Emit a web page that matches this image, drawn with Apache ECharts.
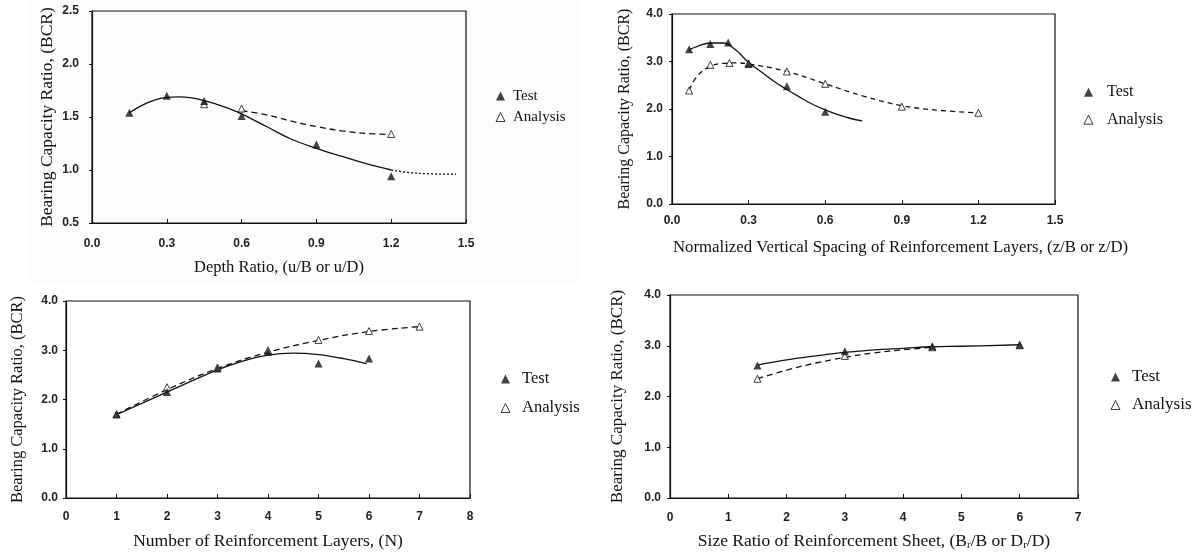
<!DOCTYPE html>
<html><head><meta charset="utf-8">
<script src="https://cdn.jsdelivr.net/npm/echarts@6/dist/echarts.min.js"></script>
<style>html,body{margin:0;padding:0;background:#fff}#c{width:1203px;height:553px}</style>
</head><body><div id="c"></div>
<script>
// ---------- Panel 1: Depth ratio ----------
const p1TestX = [0.15, 0.30, 0.45, 0.60, 0.90, 1.20];
const p1TestY = [1.54, 1.70, 1.65, 1.51, 1.24, 0.94];
const p1AnaX = [0.45, 0.60, 1.20];
const p1AnaY = [1.62, 1.58, 1.34];
const p1FitTest = [[0.15,1.54],[0.2,1.61],[0.25,1.66],[0.3,1.685],[0.35,1.69],[0.4,1.68],[0.45,1.655],[0.5,1.62],[0.55,1.58],[0.6,1.53],[0.7,1.41],[0.8,1.29],[0.9,1.205],[1.0,1.13],[1.1,1.06],[1.2,1.00]];
const p1FitTestExt = [[1.2,1.00],[1.3,0.97],[1.46,0.96]];
const p1FitAna = [[0.6,1.56],[0.7,1.52],[0.8,1.46],[0.9,1.41],[1.0,1.37],[1.1,1.345],[1.2,1.335]];

// ---------- Panel 2: Vertical spacing ----------
const p2TestX = [0.067, 0.15, 0.22, 0.30, 0.45, 0.60];
const p2TestY = [3.26, 3.37, 3.40, 2.95, 2.48, 1.94];
const p2AnaX = [0.067, 0.15, 0.225, 0.30, 0.45, 0.60, 0.90, 1.20];
const p2AnaY = [2.39, 2.93, 2.97, 2.96, 2.79, 2.53, 2.05, 1.92];
const p2FitTest = [[0.067,3.25],[0.1,3.32],[0.15,3.39],[0.2,3.39],[0.25,3.24],[0.3,2.98],[0.35,2.78],[0.4,2.58],[0.45,2.41],[0.5,2.25],[0.55,2.10],[0.6,1.98],[0.65,1.88],[0.7,1.80],[0.745,1.75]];
const p2FitAna = [[0.067,2.40],[0.1,2.70],[0.15,2.90],[0.2,2.96],[0.25,2.97],[0.3,2.95],[0.45,2.79],[0.6,2.53],[0.75,2.27],[0.9,2.07],[1.05,1.97],[1.2,1.92]];

// ---------- Panel 3: Number of layers ----------
const p3TestX = [1, 2, 3, 4, 5, 6];
const p3TestY = [1.70, 2.15, 2.63, 2.97, 2.73, 2.83];
const p3AnaX = [1, 2, 3, 4, 5, 6, 7];
const p3AnaY = [1.70, 2.25, 2.65, 3.00, 3.21, 3.39, 3.48];
const p3FitTest = [[1,1.69],[2,2.15],[3,2.60],[3.5,2.78],[4,2.90],[4.5,2.94],[5,2.91],[5.5,2.83],[5.95,2.73]];
const p3FitAna = [[1,1.70],[2,2.20],[3,2.63],[4,2.96],[5,3.20],[6,3.38],[7,3.48]];

// ---------- Panel 4: Size ratio ----------
const p4TestX = [1.5, 3, 4.5, 6];
const p4TestY = [2.61, 2.89, 2.99, 3.02];
const p4AnaX = [1.5, 3, 4.5, 6];
const p4AnaY = [2.35, 2.80, 2.97, 3.01];
const p4FitTest = [[1.5,2.62],[2,2.72],[2.5,2.80],[3,2.87],[3.5,2.92],[4,2.95],[4.5,2.98],[5,2.99],[6,3.02]];
const p4FitAna = [[1.5,2.35],[2,2.52],[2.5,2.66],[3,2.77],[3.5,2.86],[4,2.92],[4.5,2.97]];

// ---------- Axis texts ----------
const yTitle = 'Bearing Capacity Ratio, (BCR)';
const xTitles = [
  'Depth Ratio, (u/B or u/D)',
  'Normalized Vertical Spacing of Reinforcement Layers, (z/B or z/D)',
  'Number of Reinforcement Layers, (N)',
  'Size Ratio of Reinforcement Sheet, (B{s|r}/B or D{s|r}/D)'
];
const legendNames = ['Test', 'Analysis'];

const zip = (xs, ys) => xs.map((x, i) => [x, ys[i]]);
const serif = '"Liberation Serif", "DejaVu Serif", serif';
const sans = '"Liberation Sans", Arial, sans-serif';

const grids = [
  {left: 92, top: 11, width: 374, height: 212},
  {left: 672, top: 14, width: 383, height: 190},
  {left: 66, top: 301, width: 404, height: 197},
  {left: 670, top: 295, width: 408, height: 203}
].map(g => Object.assign({show: true, borderColor: '#111', borderWidth: 1.2, backgroundColor: 'transparent'}, g));

const xCfg = [
  {min: 0, max: 1.5, interval: 0.3, dec: 1, gap: 36, margin: 15, pad: 0, fs: 16.5},
  {min: 0, max: 1.5, interval: 0.3, dec: 1, gap: 35, margin: 11, pad: 74, fs: 16.8},
  {min: 0, max: 8, interval: 1, dec: 0, gap: 34, margin: 13, pad: 0, fs: 17.5},
  {min: 0, max: 7, interval: 1, dec: 0, gap: 34, margin: 14, pad: 0, fs: 17.5}
];
const yCfg = [
  {min: 0.5, max: 2.5, interval: 0.5, gap: 36, margin: 13, fs: 17.5},
  {min: 0, max: 4, interval: 1, gap: 39, margin: 9, fs: 16},
  {min: 0, max: 4, interval: 1, gap: 40, margin: 8, fs: 16.5},
  {min: 0, max: 4, interval: 1, gap: 44, margin: 9, fs: 17}
];

const xAxis = xCfg.map((c, i) => ({
  type: 'value', gridIndex: i, min: c.min, max: c.max, interval: c.interval,
  name: xTitles[i], nameLocation: 'middle', nameGap: c.gap,
  nameTextStyle: {fontFamily: serif, fontSize: c.fs, color: '#111', padding: [0, 0, 0, c.pad],
    rich: {s: {fontFamily: serif, fontSize: 11, color: '#111', verticalAlign: 'bottom', padding: [8, 0, 0, 0]}}},
  axisLine: {show: true, onZero: false, lineStyle: {color: '#111', width: 1.2}},
  axisTick: {show: true, inside: true, length: 4, lineStyle: {color: '#111'}},
  splitLine: {show: false},
  axisLabel: {margin: c.margin, fontFamily: sans, fontSize: 12, fontWeight: 'bold', color: '#222',
    formatter: v => v.toFixed(c.dec)}
}));
const yAxis = yCfg.map((c, i) => ({
  type: 'value', gridIndex: i, min: c.min, max: c.max, interval: c.interval,
  name: yTitle, nameLocation: 'middle', nameGap: c.gap,
  nameTextStyle: {fontFamily: serif, fontSize: c.fs, color: '#111'},
  axisLine: {show: true, onZero: false, lineStyle: {color: '#111', width: 1.2}},
  axisTick: {show: true, length: 3, lineStyle: {color: '#111'}},
  splitLine: {show: false},
  axisLabel: {margin: c.margin, fontFamily: sans, fontSize: 12, fontWeight: 'bold', color: '#222',
    formatter: v => v.toFixed(1)}
}));

function curve(i, data, type) {
  return {type: 'line', xAxisIndex: i, yAxisIndex: i, data: data, smooth: 0.4, symbol: 'none',
    silent: true, z: 2, lineStyle: {color: '#111', width: 1.3, type: type}};
}
function pts(i, name, data) {
  const open = name === 'Analysis';
  return {type: 'scatter', name: name, xAxisIndex: i, yAxisIndex: i, data: data,
    symbol: 'triangle', symbolSize: open ? 7 : 8, z: 5,
    itemStyle: open ? {color: '#fff', borderColor: '#111', borderWidth: 1} : {color: '#111'}};
}

const series = [
  curve(0, p1FitTest, 'solid'), curve(0, p1FitTestExt, [2, 2]), curve(0, p1FitAna, [6, 4]),
  pts(0, 'Analysis', zip(p1AnaX, p1AnaY)), pts(0, 'Test', zip(p1TestX, p1TestY)),
  curve(1, p2FitTest, 'solid'), curve(1, p2FitAna, [5, 4]),
  pts(1, 'Analysis', zip(p2AnaX, p2AnaY)), pts(1, 'Test', zip(p2TestX, p2TestY)),
  curve(2, p3FitTest, 'solid'), curve(2, p3FitAna, [6, 4]),
  pts(2, 'Analysis', zip(p3AnaX, p3AnaY)), pts(2, 'Test', zip(p3TestX, p3TestY)),
  curve(3, p4FitTest, 'solid'), curve(3, p4FitAna, [6, 4]),
  pts(3, 'Analysis', zip(p4AnaX, p4AnaY)), pts(3, 'Test', zip(p4TestX, p4TestY))
];

const legendPos = [
  {left: 495.5, top: 87.5, itemGap: 4, fs: 15, lh: 17, tp: 3},
  {left: 1083.5, top: 83.2, itemGap: 9.5, fs: 16, lh: 18, tp: 9},
  {left: 500.5, top: 370, itemGap: 11, fs: 16.5, lh: 18, tp: 7},
  {left: 1110.5, top: 367.5, itemGap: 9, fs: 17, lh: 19, tp: 7}
];
const legend = legendPos.map(p => ({
  orient: 'vertical', left: p.left, top: p.top, itemGap: p.itemGap, padding: 0,
  itemWidth: 9, itemHeight: 9, selectedMode: false,
  textStyle: {fontFamily: serif, fontSize: p.fs, color: '#111', lineHeight: p.lh, padding: [0, 0, 0, p.tp]},
  data: [
    {name: legendNames[0], icon: 'triangle', itemStyle: {color: '#111', borderWidth: 0}},
    {name: legendNames[1], icon: 'triangle', itemStyle: {color: '#fff', borderColor: '#111', borderWidth: 1}}
  ]
}));

const chart = echarts.init(document.getElementById('c'), null, {renderer: 'canvas'});
chart.setOption({
  animation: false,
  backgroundColor: '#fff',
  graphic: [{type: 'rect', z: -10, silent: true, shape: {x: 30, y: 0, width: 548, height: 283}, style: {fill: '#fcfcfc'}}],
  grid: grids, xAxis: xAxis, yAxis: yAxis, legend: legend, series: series
});
</script></body></html>
